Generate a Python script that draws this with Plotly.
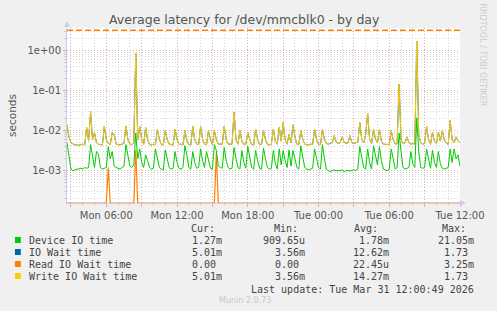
import plotly.graph_objects as go
import pandas as pd

# ---------------- data (values in milliseconds, one sample per 10 minutes) ----------------
START = "2026-03-30 02:40"
STEP = "10min"

device_io_ms = [
    5.0, 2.2, 1.1, 1.0, 1.05, 1.1, 1.1, 1.15, 1.1, 1.2,
    1.15, 1.2, 4.5, 2.0, 1.2, 3.0, 2.6, 1.2, 1.1, 1.15,
    1.2, 4.0, 2.0, 3.0, 1.3, 1.2, 1.15, 1.1, 1.2, 1.3,
    4.5, 2.5, 1.3, 1.2, 1.4, 8.7, 2.0, 3.5, 1.6, 1.2,
    2.5, 1.8, 1.2, 1.1, 1.15, 3.5, 2.2, 1.2, 1.1, 1.05,
    3.3, 2.0, 1.2, 1.1, 1.15, 3.0, 1.6, 1.15, 1.1, 1.2,
    4.2, 2.4, 1.2, 1.1, 3.0, 1.6, 1.15, 1.2, 3.5, 1.8,
    1.2, 3.0, 2.0, 1.15, 1.1, 4.5, 3.2, 1.3, 1.2, 1.15,
    3.8, 1.8, 1.2, 1.1, 1.15, 3.8, 2.0, 1.2, 1.1, 3.2,
    1.6, 1.15, 4.0, 2.2, 1.2, 1.1, 3.2, 1.8, 1.15, 1.1,
    3.7, 2.0, 1.2, 1.1, 1.15, 3.2, 1.5, 1.1, 3.5, 1.4,
    3.2, 1.8, 1.2, 3.3, 1.3, 3.2, 2.0, 1.2, 1.1, 4.2,
    2.2, 1.2, 1.1, 1.05, 1.1, 1.15, 3.5, 2.0, 1.2, 1.1,
    4.5, 2.0, 1.1, 1.0, 0.95, 1.0, 1.05, 1.0, 0.98, 1.0,
    1.05, 0.95, 1.0, 1.02, 0.98, 1.0, 1.05, 1.0, 1.1, 4.0,
    2.0, 1.2, 1.1, 3.5, 1.6, 1.1, 4.2, 2.5, 1.4, 4.0,
    1.8, 1.1, 1.05, 1.0, 1.1, 3.5, 2.0, 1.1, 1.2, 8.7,
    3.0, 1.2, 1.1, 1.15, 1.2, 3.0, 1.5, 1.2, 21.0, 3.0,
    1.2, 1.15, 1.2, 3.5, 1.8, 1.15, 3.2, 1.6, 1.2, 3.0,
    1.5, 1.15, 1.1, 1.15, 1.2, 3.5, 1.6, 3.5, 2.0, 2.5,
    1.27,
]

write_wait_ms = [
    14, 7, 5.0, 4.6, 4.4, 4.5, 4.3, 4.5, 4.6, 4.4,
    12, 5.5, 30, 6, 9, 5.0, 4.6, 4.5, 4.4, 13,
    6, 4.8, 4.5, 9, 8, 4.6, 4.5, 4.4, 4.6, 4.8,
    13, 6, 4.6, 4.5, 5, 850, 6, 13, 6, 4.6,
    12, 6, 4.5, 4.4, 4.6, 4.5, 11, 6, 4.5, 4.4,
    10, 6, 4.6, 4.5, 4.4, 11, 6, 4.5, 4.6, 4.4,
    10, 5.5, 4.5, 4.4, 13, 6, 4.6, 4.5, 13, 6,
    4.6, 4.5, 10, 6, 4.5, 10, 6, 4.6, 4.5, 4.6,
    13, 6, 4.6, 4.5, 4.6, 29, 6, 4.6, 10, 5.5,
    4.5, 4.6, 9, 6, 4.5, 4.4, 11, 6, 4.5, 4.6,
    10, 6, 4.5, 4.4, 4.6, 11, 5.5, 4.6, 12, 5.5,
    16, 6, 4.6, 8, 5, 14, 7, 4.6, 4.5, 10,
    6, 4.6, 4.5, 4.4, 4.6, 4.5, 11, 6, 4.6, 4.5,
    11, 6, 4.8, 4.6, 4.8, 5.0, 7.5, 5.2, 4.8, 5.0,
    7, 5.2, 4.8, 5.0, 7.5, 5.0, 4.8, 5.0, 5.2, 16,
    6, 5, 8, 27, 6, 4.8, 11, 6, 5, 11,
    5.5, 4.6, 4.5, 4.6, 4.5, 10, 6, 4.6, 4.8, 147,
    6, 4.8, 5, 7, 5, 4.6, 4.8, 4.6, 1730, 8,
    5, 4.6, 4.8, 13, 6, 4.6, 9, 5.5, 4.8, 9,
    5.5, 10, 6, 4.8, 4.6, 18, 6, 5, 7, 5.5,
    5.01,
]

# IO wait total is indistinguishable from the write wait on this chart
io_wait_ms = write_wait_ms

read_wait_ms = [
    0, 0, 0, 0, 0, 0, 0, 0, 0, 0,
    0, 0, 0, 0, 0, 0, 0, 0, 0, 0,
    0, 1.2, 0, 0, 0, 0, 0, 0, 0, 0,
    0, 0, 0, 0, 0, 3.25, 0, 0, 0, 0,
    0, 0, 0, 0, 0, 0, 0, 0, 0, 0,
    0, 0, 0, 0, 0, 0, 0, 0, 0, 0,
    0, 0, 0, 0, 0, 0, 0, 0, 0, 0,
    0, 0, 0, 0, 0, 0, 2.8, 0, 0, 0,
    0, 0, 0, 0, 0, 0, 0, 0, 0, 0,
    0, 0, 0, 0, 0, 0, 0, 0, 0, 0,
    0, 0, 0, 0, 0, 0, 0, 0, 0, 0,
    0, 0, 0, 0, 0, 0, 0, 0, 0, 0,
    0, 0, 0, 0, 0, 0, 0, 0, 0, 0,
    0, 0, 0, 0, 0, 0, 0, 0, 0, 0,
    0, 0, 0, 0, 0, 0, 0, 0, 0, 0,
    0, 0, 0, 0, 0, 0, 0, 0, 0, 0,
    0, 0, 0, 0, 0, 0, 0, 0, 0, 0,
    0, 0, 0, 0, 0, 0, 0, 0, 0, 0,
    0, 0, 0, 0, 0, 0, 0, 0, 0, 0,
    0, 0, 0, 0, 0, 0, 0, 0, 0, 0,
    0,
]

HRULE_S = 3.25

series_names = ["Device IO time", "IO Wait time", "Read IO Wait time", "Write IO Wait time"]
series_colors = ["#00CC00", "#0066B3", "#FF8000", "#FFCC00"]
cur_vals = ["1.27m", "5.01m", "0.00\u00a0", "5.01m"]
min_vals = ["909.65u", "3.56m", "0.00\u00a0", "3.56m"]
avg_vals = ["1.78m", "12.62m", "22.45u", "14.27m"]
max_vals = ["21.05m", "1.73\u00a0", "3.25m", "1.73\u00a0"]

x_tick_vals = ["2026-03-30 03:00", "2026-03-30 06:00", "2026-03-30 09:00", "2026-03-30 12:00",
               "2026-03-30 15:00", "2026-03-30 18:00", "2026-03-30 21:00", "2026-03-31 00:00",
               "2026-03-31 03:00", "2026-03-31 06:00", "2026-03-31 09:00", "2026-03-31 12:00"]
x_tick_text = ["", "Mon 06:00", "", "Mon 12:00", "", "Mon 18:00", "", "Tue 00:00",
               "", "Tue 06:00", "", "Tue 12:00"]
X_RANGE = ["2026-03-30 02:40", "2026-03-31 12:00"]

y_tick_vals = [1e-3, 1e-2, 1e-1, 1.0]
y_tick_text = ["1e-03", "1e-02", "1e-01", "1e+00"]
Y_RANGE = [-3.8075, 0.5675]

# ---------------- layout geometry ----------------
W, H = 497, 311
L, R, T, B = 67, 30, 28, 108
PW, PH = W - L - R, H - T - B


def px(xp):
    return (xp - L) / PW


def py(yp):
    return (H - B - yp) / PH


def times(n):
    return pd.date_range(START, periods=n, freq=STEP)


def to_s(vals):
    return [v / 1000.0 for v in vals]


floor_val = 10 ** Y_RANGE[0]

fig = go.Figure()
fig.add_trace(go.Scatter(x=times(len(io_wait_ms)), y=to_s(io_wait_ms), mode="lines",
                         line=dict(color=series_colors[1], width=1), hoverinfo="skip"))
fig.add_trace(go.Scatter(x=times(len(read_wait_ms)),
                         y=[v / 1000.0 if v > 0 else floor_val for v in read_wait_ms],
                         mode="lines", line=dict(color=series_colors[2], width=1.2), hoverinfo="skip"))
fig.add_trace(go.Scatter(x=times(len(write_wait_ms)), y=to_s(write_wait_ms), mode="lines",
                         line=dict(color=series_colors[3], width=1), hoverinfo="skip"))
fig.add_trace(go.Scatter(x=times(len(device_io_ms)), y=to_s(device_io_ms), mode="lines",
                         line=dict(color=series_colors[0], width=1), hoverinfo="skip"))
fig.add_trace(go.Scatter(x=X_RANGE, y=[HRULE_S, HRULE_S], mode="lines",
                         line=dict(color="#FF8000", width=1.5, dash="6px,3px"), hoverinfo="skip"))

minor_y = [m * 10 ** e for e in range(-4, 1) for m in range(2, 10)]

fig.update_layout(
    width=W, height=H, margin=dict(l=L, r=R, t=T, b=B),
    paper_bgcolor="#F0F0F0", plot_bgcolor="#FFFFFF", showlegend=False,
    font=dict(family="DejaVu Sans", size=10, color="#555555"),
    xaxis=dict(type="date", range=X_RANGE, tickmode="array", tickvals=x_tick_vals,
               ticktext=x_tick_text, showgrid=True, gridcolor="#E3A9A9", griddash="1px,2px",
               gridwidth=1, ticks="outside", ticklen=3, tickcolor="#E3A9A9",
               showline=True, linecolor="#C8CCF0", linewidth=1, zeroline=False,
               tickfont=dict(size=10, color="#555555"),
               minor=dict(dtick=3600000, tick0="2026-03-30 00:00", showgrid=True,
                          gridcolor="#D8D8D8", griddash="1px,2px", gridwidth=1,
                          ticks="outside", ticklen=2, tickcolor="#D0D0D0")),
    yaxis=dict(type="log", range=Y_RANGE, tickmode="array", tickvals=y_tick_vals,
               ticktext=y_tick_text, showgrid=True, gridcolor="#E3A9A9", griddash="1px,2px",
               gridwidth=1, ticks="outside", ticklen=3, tickcolor="#E3A9A9",
               showline=True, linecolor="#C8CCF0", linewidth=1, zeroline=False,
               tickfont=dict(size=10, color="#555555"),
               minor=dict(tickmode="array", tickvals=minor_y, showgrid=True,
                          gridcolor="#D8D8D8", griddash="1px,2px", gridwidth=1,
                          ticks="outside", ticklen=2, tickcolor="#D0D0D0")),
)

ann = []
ann.append(dict(x=px(248), y=py(20), text="Average latency for /dev/mmcblk0 - by day",
                font=dict(size=12.5, color="#555555", family="DejaVu Sans")))
ann.append(dict(x=px(11), y=py(115), text="seconds", textangle=-90,
                font=dict(size=10.5, color="#555555", family="DejaVu Sans")))
ann.append(dict(x=px(489), y=py(55), text="RRDTOOL / TOBI OETIKER", textangle=90,
                font=dict(size=8, color="#CCCCCC", family="DejaVu Sans")))
ann.append(dict(x=px(248), y=py(300), text="Munin 2.0.73",
                font=dict(size=8, color="#C8C8C8", family="DejaVu Sans")))

mono = dict(family="DejaVu Sans Mono", size=10, color="#444444")
HEAD_Y = 228
for text, xh in [("Cur:", 191), ("Min:", 276), ("Avg:", 357), ("Max:", 447)]:
    ann.append(dict(x=px(xh), y=py(HEAD_Y), text=text, xanchor="left", font=mono))

row_y = [240, 252, 264, 276]
shapes = []
for i, name in enumerate(series_names):
    yy = row_y[i]
    ann.append(dict(x=px(26), y=py(yy), text=name, xanchor="left", font=mono))
    for vals, xr in [(cur_vals, 227), (min_vals, 311), (avg_vals, 397), (max_vals, 483)]:
        ann.append(dict(x=px(xr), y=py(yy), text=vals[i], xanchor="right", font=mono))
    shapes.append(dict(type="rect", xref="paper", yref="paper",
                       x0=px(14), x1=px(20), y0=py(yy + 3), y1=py(yy - 3),
                       fillcolor=series_colors[i], line=dict(width=0)))
ann.append(dict(x=px(483), y=py(289), text="Last update: Tue Mar 31 12:00:49 2026",
                xanchor="right", font=mono))

for a in ann:
    a.setdefault("xref", "paper")
    a.setdefault("yref", "paper")
    a.setdefault("showarrow", False)
    a.setdefault("xanchor", "center")
    a.setdefault("yanchor", "middle")

# axis arrow heads
shapes.append(dict(type="path", xref="paper", yref="paper",
                   path=f"M {px(64)} {py(27)} L {px(70)} {py(27)} L {px(67)} {py(21)} Z",
                   fillcolor="#C8CCF0", line=dict(width=0)))
shapes.append(dict(type="path", xref="paper", yref="paper",
                   path=f"M {px(467)} {py(200)} L {px(467)} {py(206)} L {px(473)} {py(203)} Z",
                   fillcolor="#C8CCF0", line=dict(width=0)))

fig.update_layout(annotations=ann, shapes=shapes)
fig.write_html("out.html")
